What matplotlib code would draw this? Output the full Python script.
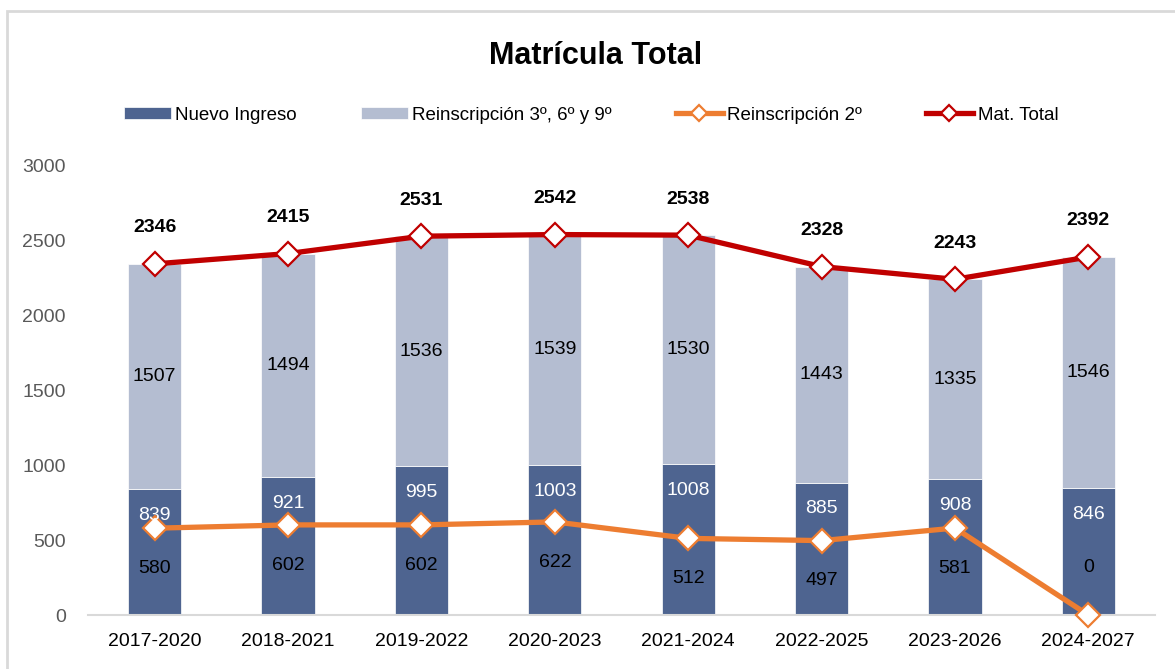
import matplotlib
matplotlib.use("Agg")
import matplotlib.pyplot as plt
from matplotlib.patches import Rectangle

plt.rcParams['font.family'] = ['Liberation Sans', 'DejaVu Sans']

periodos = ["2017-2020", "2018-2021", "2019-2022", "2020-2023",
            "2021-2024", "2022-2025", "2023-2026", "2024-2027"]
nuevo_ingreso = [839, 921, 995, 1003, 1008, 885, 908, 846]
reinsc_369 = [1507, 1494, 1536, 1539, 1530, 1443, 1335, 1546]
reinsc_2 = [580, 602, 602, 622, 512, 497, 581, 0]
mat_total = [2346, 2415, 2531, 2542, 2538, 2328, 2243, 2392]

c_dark = '#4E6490'
c_light = '#B4BDD1'
c_orange = '#ED7D31'
c_red = '#C00000'

fig = plt.figure(figsize=(11.75, 6.69), dpi=100)
ax = fig.add_axes([88/1175, 1-615/669, (1155-88)/1175, (615-166)/669])

x = list(range(len(periodos)))
b1 = ax.bar(x, nuevo_ingreso, width=0.4, color=c_dark, label='Nuevo Ingreso',
            edgecolor='white', linewidth=0.5, zorder=2)
b2 = ax.bar(x, reinsc_369, width=0.4, bottom=nuevo_ingreso, color=c_light,
            label='Reinscripción 3º, 6º y 9º', edgecolor='white', linewidth=0.5, zorder=2)
l1, = ax.plot(x, reinsc_2, color=c_orange, lw=3.8, marker='D', markersize=12,
              markerfacecolor='white', markeredgecolor=c_orange, markeredgewidth=1.6,
              label='Reinscripción 2º', zorder=3, clip_on=False)
l2, = ax.plot(x, mat_total, color=c_red, lw=3.8, marker='D', markersize=12,
              markerfacecolor='white', markeredgecolor=c_red, markeredgewidth=1.6,
              label='Mat. Total', zorder=4, clip_on=False)

fs = 14
for i in x:
    ax.annotate(str(nuevo_ingreso[i]), (i, nuevo_ingreso[i]), xytext=(0, -19),
                textcoords='offset points', ha='center', va='center',
                color='white', fontsize=fs, zorder=5)
    ax.text(i, nuevo_ingreso[i] + reinsc_369[i] / 2, str(reinsc_369[i]),
            ha='center', va='center', fontsize=fs, color='black', zorder=5)
    off = -29 if reinsc_2[i] > 200 else 34
    ax.annotate(str(reinsc_2[i]), (i, reinsc_2[i]), xytext=(0, off),
                textcoords='offset points', ha='center', va='center',
                fontsize=fs, color='black', zorder=5)
    ax.annotate(str(mat_total[i]), (i, mat_total[i]), xytext=(0, 26),
                textcoords='offset points', ha='center', va='center',
                fontsize=fs, fontweight='bold', color='black', zorder=5)

ax.set_xlim(-0.5, 7.5)
ax.set_ylim(0, 3000)
ax.set_yticks(range(0, 3001, 500))
ax.set_xticks(x)
ax.set_xticklabels(periodos)
ax.tick_params(axis='both', length=0, labelsize=fs)
ax.tick_params(axis='y', colors='#595959', pad=16)
ax.tick_params(axis='x', colors='black', pad=13)
for s in ['top', 'right', 'left']:
    ax.spines[s].set_visible(False)
ax.spines['bottom'].set_color('#D9D9D9')
ax.spines['bottom'].set_linewidth(1.5)

fig.text(596/1175, 1-56/669, 'Matrícula Total', ha='center', va='center',
         fontsize=22, fontweight='bold')

fig.legend(handles=[b1, b2, l1, l2], loc='center', bbox_to_anchor=(591/1175, 1-115/669),
           ncol=4, frameon=False, fontsize=13.5, handlelength=2.5, handleheight=0.6,
           columnspacing=3.4, handletextpad=0.25, markerscale=0.7)

fig.patches.append(Rectangle((7/1175, -0.1), 1.2, 1 - 11/669 + 0.1,
                             transform=fig.transFigure, fill=False,
                             edgecolor='#D9D9D9', linewidth=2))

fig.savefig('out.png', dpi=100)
